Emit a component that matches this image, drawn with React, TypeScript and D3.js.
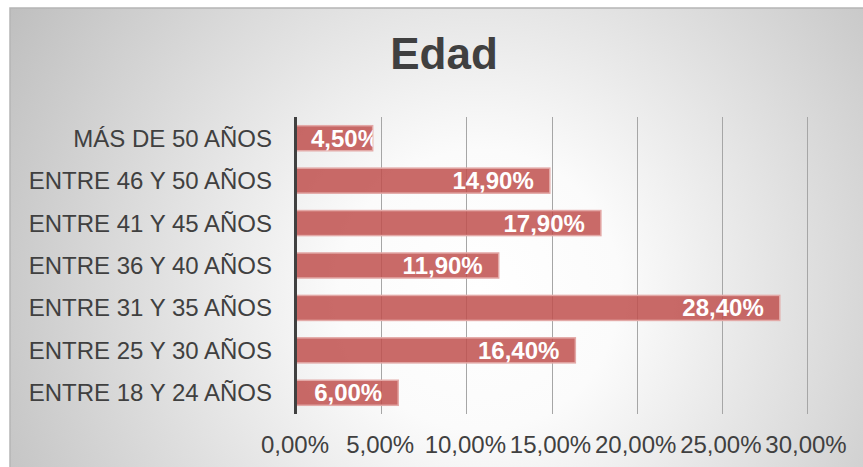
import React, { useEffect, useRef } from "react";
import * as d3 from "d3";

const title = "Edad";
const categories = [
  "MÁS DE 50 AÑOS",
  "ENTRE 46 Y 50 AÑOS",
  "ENTRE 41 Y 45 AÑOS",
  "ENTRE 36 Y 40 AÑOS",
  "ENTRE 31 Y 35 AÑOS",
  "ENTRE 25 Y 30 AÑOS",
  "ENTRE 18 Y 24 AÑOS",
];
const values = [0.045, 0.149, 0.179, 0.119, 0.284, 0.164, 0.06];
const ticks = [0, 0.05, 0.1, 0.15, 0.2, 0.25, 0.3];

const fmt = (v: number) => (v * 100).toFixed(2).replace(".", ",") + "%";

const App = () => {
  const ref = useRef<SVGSVGElement | null>(null);

  useEffect(() => {
    if (!ref.current) return;
    const svg = d3.select(ref.current);
    svg.selectAll("*").remove();
    const width = 863;
    const height = 467;
    const font = "'Liberation Sans', Arial, sans-serif";

    const defs = svg.append("defs");
    const grad = defs
      .append("radialGradient")
      .attr("id", "bg")
      .attr("gradientUnits", "userSpaceOnUse")
      .attr("cx", 480)
      .attr("cy", 290)
      .attr("r", 560);
    grad.append("stop").attr("offset", 0).attr("stop-color", "#ffffff");
    grad.append("stop").attr("offset", 0.25).attr("stop-color", "#fbfbfb");
    grad.append("stop").attr("offset", 1).attr("stop-color", "#bdbdbd");

    // chart area background
    svg
      .append("rect")
      .attr("x", 10)
      .attr("y", 8)
      .attr("width", width)
      .attr("height", height)
      .attr("fill", "url(#bg)")
      .attr("stroke", "#b5b5b5")
      .attr("stroke-width", 1.5);

    svg
      .append("text")
      .attr("x", 444)
      .attr("y", 69)
      .attr("text-anchor", "middle")
      .attr("font-family", font)
      .attr("font-weight", "bold")
      .attr("font-size", 44)
      .attr("fill", "#404040")
      .text(title);

    const x = d3.scaleLinear().domain([0, 0.3]).range([296, 807]);
    const y = d3
      .scaleBand()
      .domain(categories)
      .range([117, 414])
      .paddingInner(0.41)
      .paddingOuter(0.205);

    // gridlines
    svg
      .append("g")
      .selectAll("line")
      .data(ticks.slice(1))
      .enter()
      .append("line")
      .attr("x1", (d) => Math.round(x(d)) + 0.5)
      .attr("x2", (d) => Math.round(x(d)) + 0.5)
      .attr("y1", 117)
      .attr("y2", 414)
      .attr("stroke", "#a6a6a6")
      .attr("stroke-width", 1);

    // tick labels
    svg
      .append("g")
      .selectAll("text")
      .data(ticks)
      .enter()
      .append("text")
      .attr("x", (d) => x(d) - 1)
      .attr("y", 453)
      .attr("text-anchor", "middle")
      .attr("font-family", font)
      .attr("font-size", 24)
      .attr("fill", "#404040")
      .text((d) => fmt(d));

    // category labels
    svg
      .append("g")
      .selectAll("text")
      .data(categories)
      .enter()
      .append("text")
      .attr("x", 272)
      .attr("y", (d) => (y(d) as number) + y.bandwidth() / 2 + 8.5)
      .attr("text-anchor", "end")
      .attr("font-family", font)
      .attr("font-size", 24)
      .attr("fill", "#404040")
      .text((d) => d);

    // bars
    const bars = svg
      .append("g")
      .selectAll("g")
      .data(categories.map((c, i) => ({ c, v: values[i], i })))
      .enter()
      .append("g");

    bars
      .append("clipPath")
      .attr("id", (d) => `clip${d.i}`)
      .append("rect")
      .attr("x", x(0))
      .attr("y", (d) => y(d.c) as number)
      .attr("width", (d) => x(d.v) - x(0))
      .attr("height", y.bandwidth());

    bars
      .append("rect")
      .attr("x", x(0))
      .attr("y", (d) => y(d.c) as number)
      .attr("width", (d) => x(d.v) - x(0))
      .attr("height", y.bandwidth())
      .attr("fill", "rgba(192,80,77,0.85)")
      .attr("stroke", "#e3a9a7")
      .attr("stroke-width", 1.5);

    bars
      .append("text")
      .attr("clip-path", (d) => `url(#clip${d.i})`)
      .attr("y", (d) => (y(d.c) as number) + y.bandwidth() / 2 + 8.5)
      .attr("text-anchor", "end")
      .attr("font-family", font)
      .attr("font-weight", "bold")
      .attr("font-size", 24)
      .attr("fill", "#ffffff")
      .text((d) => fmt(d.v))
      .attr("x", function (d) {
        const w = (this as SVGTextElement).getComputedTextLength();
        return Math.max(x(d.v) - 16, x(0) + 15 + w);
      });

    // y axis line
    svg
      .append("line")
      .attr("x1", 295.5)
      .attr("x2", 295.5)
      .attr("y1", 117)
      .attr("y2", 414)
      .attr("stroke", "#404040")
      .attr("stroke-width", 3);
  }, []);

  return (
    <svg
      ref={ref}
      width={863}
      height={467}
      style={{ position: "absolute", left: 0, top: 0, display: "block" }}
    />
  );
};

export default App;
